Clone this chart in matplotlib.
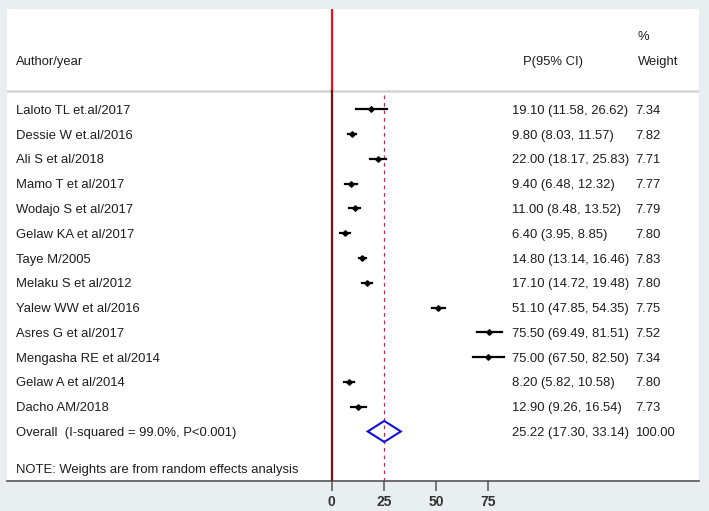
import numpy as np
import matplotlib
matplotlib.use("Agg")
import matplotlib.pyplot as plt
from matplotlib.transforms import blended_transform_factory

plt.rcParams.update({"font.family": ["Liberation Sans", "DejaVu Sans"], "font.size": 9.4})

# --- datos ---
studies = ["Laloto TL et.al/2017", "Dessie W et.al/2016", "Ali S et al/2018",
           "Mamo T et al/2017", "Wodajo S et al/2017", "Gelaw KA et al/2017",
           "Taye M/2005", "Melaku S et al/2012", "Yalew WW et al/2016",
           "Asres G et al/2017", "Mengasha RE et al/2014", "Gelaw A et al/2014",
           "Dacho AM/2018"]
est = [19.10, 9.80, 22.00, 9.40, 11.00, 6.40, 14.80, 17.10, 51.10, 75.50, 75.00, 8.20, 12.90]
lo = [11.58, 8.03, 18.17, 6.48, 8.48, 3.95, 13.14, 14.72, 47.85, 69.49, 67.50, 5.82, 9.26]
hi = [26.62, 11.57, 25.83, 12.32, 13.52, 8.85, 16.46, 19.48, 54.35, 81.51, 82.50, 10.58, 16.54]
weights = [7.34, 7.82, 7.71, 7.77, 7.79, 7.80, 7.83, 7.80, 7.75, 7.52, 7.34, 7.80, 7.73]
overall_label = "Overall  (I-squared = 99.0%, P<0.001)"
overall = (25.22, 17.30, 33.14, 100.00)
xticks = [0, 25, 50, 75]

W, H = 709, 511
fig = plt.figure(figsize=(W / 100, H / 100), dpi=100, facecolor="#e9eff1")
# zona blanca en píxeles: x 7..699, y 9..481
L, R, T, B = 7, 699, 9, 481
ax = fig.add_axes([L / W, 1 - B / H, (R - L) / W, (B - T) / H], facecolor="white")
ax.set_ylim(B, T)                       # eje y en "píxeles" de la fila
x0_px, px_per = 331.5, 2.092            # posición del 0 y escala
ax.set_xlim((L - x0_px) / px_per, (R - x0_px) / px_per)

row0, dy = 109.3, 24.78
ys = row0 + dy * np.arange(len(studies))
y_over = row0 + dy * len(studies)
y_note = y_over + 36.5
y_head_line = 90.8
ty = 1.6   # desplazamiento vertical del texto

tr = blended_transform_factory(ax.transAxes, ax.transData)
def fx(px):
    return (px - L) / (R - L)

# líneas de referencia
ax.plot([0, 0], [T, y_head_line], color="#e8141b", lw=1.6, zorder=3)
ax.plot([0, 0], [y_head_line, B], color="#7a1010", lw=1.6, zorder=3)
ax.plot([0, 1], [y_head_line, y_head_line], transform=tr, color="#d5d5d5", lw=1.8, zorder=2)
ax.plot([overall[0]] * 2, [y_head_line + 4, B], color="#b0305a", lw=0.9,
        ls=(0, (3, 3)), zorder=2)

# estudios
for y, e, l, h in zip(ys, est, lo, hi):
    ax.plot([l, h], [y, y], color="black", lw=1.6, zorder=4)
    ax.plot(e, y, marker="D", ms=2.8, color="black", zorder=5)

# diamante global
m, l, h, _ = overall
ax.fill([l, m, h, m, l], [y_over, y_over - 10.5, y_over, y_over + 10.5, y_over],
        facecolor="none", edgecolor="#1010d8", lw=1.5, zorder=4)

# textos
col = "#1e1e1e"
ax.text(fx(15.7), 60 + ty, "Author/year", transform=tr, va="center", color=col)
ax.text(fx(523), 60 + ty, "P(95% CI)", transform=tr, va="center", color=col)
ax.text(fx(638), 35 + ty, "%", transform=tr, va="center", color=col)
ax.text(fx(638), 60 + ty, "Weight", transform=tr, va="center", color=col)
for y, s, e, l, h, w in zip(ys, studies, est, lo, hi, weights):
    ax.text(fx(15.7), y + ty, s, transform=tr, va="center", color=col)
    ax.text(fx(512.3), y + ty, f"{e:.2f} ({l:.2f}, {h:.2f})", transform=tr, va="center", color=col)
    ax.text(fx(635), y + ty, f"{w:.2f}", transform=tr, va="center", color=col)
ax.text(fx(15.7), y_over + ty, overall_label, transform=tr, va="center", color=col)
ax.text(fx(512.3), y_over + ty, f"{overall[0]:.2f} ({overall[1]:.2f}, {overall[2]:.2f})",
        transform=tr, va="center", color=col)
ax.text(fx(635), y_over + ty, f"{overall[3]:.2f}", transform=tr, va="center", color=col)
ax.text(fx(15.7), y_note + ty, "NOTE: Weights are from random effects analysis",
        transform=tr, va="center", color=col)

# ejes
for s in ("top", "left", "right"):
    ax.spines[s].set_visible(False)
ax.spines["bottom"].set_color("#555555")
ax.spines["bottom"].set_linewidth(1.2)
ax.set_yticks([])
ax.set_xticks(xticks)
ax.tick_params(axis="x", length=7, width=1.1, color="#555555", pad=3,
               labelsize=10)
for lab in ax.get_xticklabels():
    lab.set_fontweight("bold")
    lab.set_color("#333333")

fig.savefig("out.png", dpi=100, facecolor=fig.get_facecolor())
